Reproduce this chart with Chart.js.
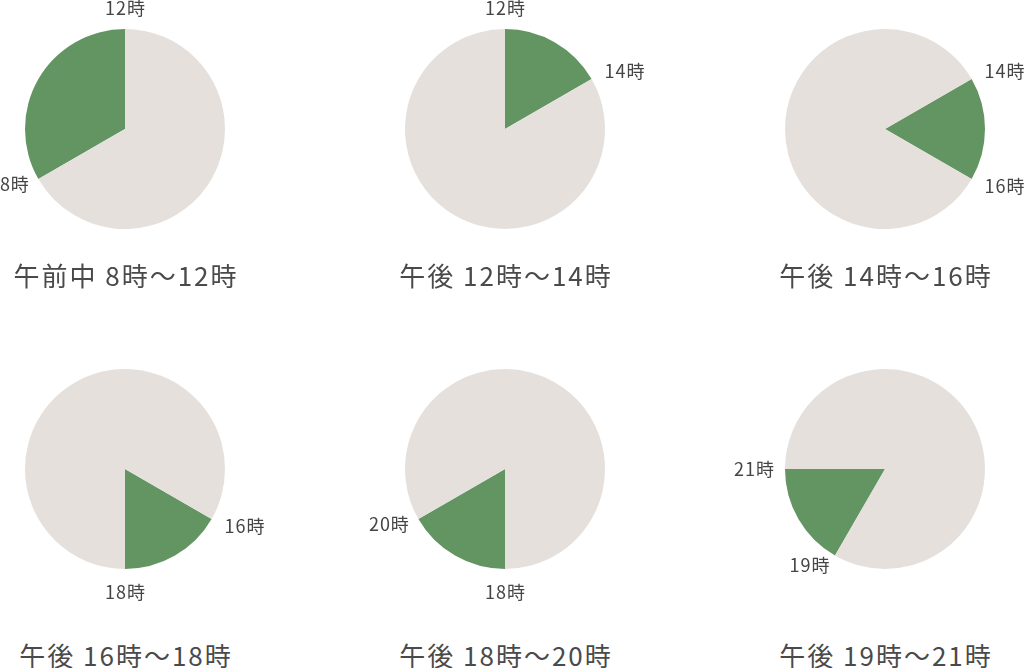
<!DOCTYPE html>
<html><head><meta charset="utf-8">
<script src="https://cdn.jsdelivr.net/npm/chart.js@4/dist/chart.umd.min.js"></script>
<style>
html,body{margin:0;padding:0;background:#fff;width:1026px;height:668px;overflow:hidden;position:relative;font-family:"Noto Sans CJK JP","Noto Sans",sans-serif;}
canvas{position:absolute;}
.title{position:absolute;width:300px;text-align:center;font-size:26px;letter-spacing:2px;padding-left:2px;box-sizing:border-box;color:#4a4a4a;line-height:30px;white-space:nowrap;}
</style></head><body>
<script>
const titles = ['午前中 8時〜12時','午後 12時〜14時','午後 14時〜16時','午後 16時〜18時','午後 18時〜20時','午後 19時〜21時'];
const startHours = [8, 12, 14, 16, 18, 19];
const endHours = [12, 14, 16, 18, 20, 21];
const centersX = [125, 505, 885];
const centersY = [129, 469];
const titleY = [275, 655];
const GREEN = '#639563', GRAY = '#e5e0dc', TEXT = '#454545';

const labelPlugin = {
  id: 'hourLabels',
  afterDraw(chart) {
    const arc = chart.getDatasetMeta(0).data[0];
    const i = chart.options.plugins.hourLabels.idx;
    const ctx = chart.ctx;
    ctx.save();
    ctx.fillStyle = TEXT;
    ctx.font = '18px "Noto Sans CJK JP", sans-serif';
    ctx.letterSpacing = '1px';
    const items = [[arc.startAngle, startHours[i] + '時'], [arc.endAngle, endHours[i] + '時']];
    const done = {};
    items.forEach(([a, t]) => {
      const c = Math.cos(a), s = Math.sin(a);
      const key = Math.round(c*100)+','+Math.round(s*100);
      if (done[key]) return; done[key] = 1;
      ctx.textAlign = c > 0.2 ? 'left' : (c < -0.2 ? 'right' : 'center');
      ctx.textBaseline = s < -0.9 ? 'bottom' : (s > 0.9 ? 'top' : 'middle');
      let d;
      if (Math.abs(s) > 0.9) d = arc.outerRadius + (s > 0 ? 14 : 12);
      else if (c > 0) d = arc.outerRadius + 15;
      else d = arc.outerRadius + 11;
      const dx = ctx.textAlign === 'center' ? 0.5 : (ctx.textAlign === 'right' ? 1 : 0);
      ctx.fillText(t, arc.x + c*d + dx, arc.y + s*d);
    });
    ctx.restore();
  }
};

for (let i = 0; i < 6; i++) {
  const row = Math.floor(i / 3);
  const cx = centersX[i % 3], cy = centersY[row];
  const cv = document.createElement('canvas');
  cv.width = 360; cv.height = 270;
  cv.style.left = (cx - 180) + 'px'; cv.style.top = (cy - 135) + 'px';
  cv.style.width = '360px'; cv.style.height = '270px';
  document.body.appendChild(cv);
  const span = endHours[i] - startHours[i];
  new Chart(cv, {
    type: 'pie',
    data: { labels: ['on', 'off'], datasets: [{ data: [span, 12 - span], backgroundColor: [GREEN, GRAY], borderWidth: 0 }] },
    options: {
      responsive: false, animation: false,
      rotation: (startHours[i] % 12) * 30,
      layout: { padding: { left: 80, right: 80, top: 35, bottom: 35 } },
      plugins: { legend: { display: false }, tooltip: { enabled: false }, hourLabels: { idx: i } }
    },
    plugins: [labelPlugin]
  });
  const t = document.createElement('div');
  t.className = 'title'; t.textContent = titles[i];
  t.style.left = (cx - 150) + 'px'; t.style.top = (titleY[row] - 15) + 'px';
  document.body.appendChild(t);
}
</script>
</body></html>
